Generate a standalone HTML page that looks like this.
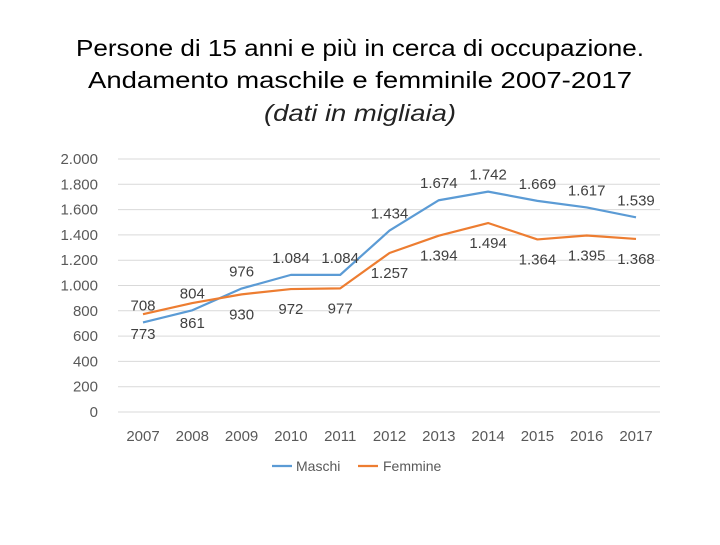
<!DOCTYPE html>
<html><head><meta charset="utf-8"><style>
html,body{margin:0;padding:0;background:#fff;}
body{width:720px;height:540px;overflow:hidden;font-family:"Liberation Sans",sans-serif;}
</style></head><body>
<svg width="720" height="540" viewBox="0 0 720 540">
<text x="360" y="56" text-anchor="middle" font-size="23" fill="#000" textLength="568" lengthAdjust="spacingAndGlyphs">Persone di 15 anni e più in cerca di occupazione.</text>
<text x="360" y="88" text-anchor="middle" font-size="23" fill="#000" textLength="544" lengthAdjust="spacingAndGlyphs">Andamento maschile e femminile 2007-2017</text>
<text x="360" y="121" text-anchor="middle" font-size="23" font-style="italic" fill="#222" textLength="192" lengthAdjust="spacingAndGlyphs">(dati in migliaia)</text>
<g id="grid"></g><g id="yt"></g><g id="xt"></g><g id="lines"></g><g id="labels"></g>
<g>
<line x1="272" y1="466" x2="292" y2="466" stroke="#5B9BD5" stroke-width="2.2"/>
<text x="296" y="471" font-size="14" fill="#595959">Maschi</text>
<line x1="358" y1="466" x2="378" y2="466" stroke="#ED7D31" stroke-width="2.2"/>
<text x="383" y="471" font-size="14" fill="#595959">Femmine</text>
</g>
</svg>
<script>
const years=["2007","2008","2009","2010","2011","2012","2013","2014","2015","2016","2017"];
const maschi=[708,804,976,1084,1084,1434,1674,1742,1669,1617,1539];
const femmine=[773,861,930,972,977,1257,1394,1494,1364,1395,1368];
const yTicks=[0,200,400,600,800,1000,1200,1400,1600,1800,2000];
const fmt=v=>v>=1000?String(Math.floor(v/1000))+"."+String(v%1000).padStart(3,"0"):String(v);
const NS="http://www.w3.org/2000/svg";
const x=i=>143+i*49.3;
const y=v=>412-v*(253/2000);
function mk(t,a,p){const e=document.createElementNS(NS,t);for(const k in a)e.setAttribute(k,a[k]);p.appendChild(e);return e;}
const grid=document.getElementById('grid'),yt=document.getElementById('yt'),xt=document.getElementById('xt'),lines=document.getElementById('lines'),labels=document.getElementById('labels');
yTicks.forEach(v=>{
 const l=mk('line',{x1:118,x2:660,y1:y(v),y2:y(v),stroke:'#D9D9D9','stroke-width':1},grid);
 
 
 const t=mk('text',{x:98,y:y(v)+5,'text-anchor':'end','font-size':15,fill:'#595959'},yt);
 t.textContent=fmt(v);
 
 
});
years.forEach((yr,i)=>{
 const t=mk('text',{x:x(i),y:441,'text-anchor':'middle','font-size':15,fill:'#595959'},xt);
 t.textContent=yr;
 
 
});
function series(arr,color,name,off){
 const p=mk('polyline',{points:arr.map((v,i)=>x(i)+','+y(v)).join(' '),fill:'none',stroke:color,'stroke-width':2.2,'stroke-linejoin':'round'},lines);
 
 
 arr.forEach((v,i)=>{
  const t=mk('text',{x:x(i),y:y(v)+off,'text-anchor':'middle','font-size':15,fill:'#404040'},labels);
  t.textContent=fmt(v);
  
  
 });
}
series(maschi,'#5B9BD5','maschi',-12);
series(femmine,'#ED7D31','femmine',25);
</script>
</body></html>
